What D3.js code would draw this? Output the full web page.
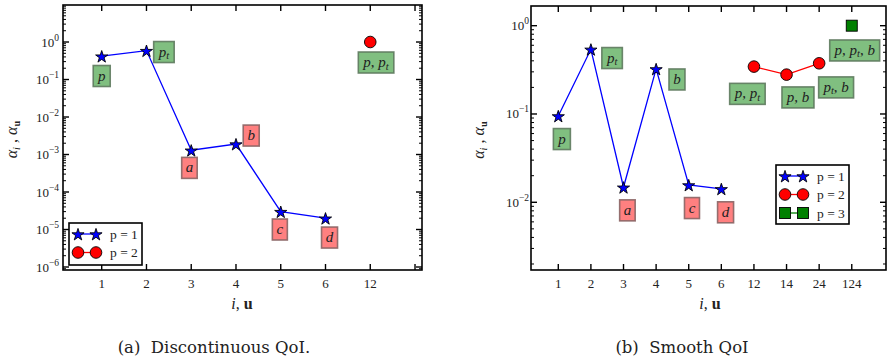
<!DOCTYPE html>
<html><head><meta charset="utf-8">
<script src="https://cdn.jsdelivr.net/npm/d3@7"></script>
<style>body{margin:0;background:#fff}svg{display:block}</style>
</head><body>
<svg id="c" width="894" height="361"></svg>
<script>
// ---------- DATA ----------
const catsA = ["1","2","3","4","5","6","12",""];
const aP1 = [0.42, 0.59, 1.3e-3, 1.9e-3, 3.0e-5, 2.0e-5];   // positions 1..6
const aP2 = [1.0];                                           // position 7
const aLabels = [
  {t:"p",   x:1.0,  y:0.124,  c:"g"},
  {t:"pt",  x:2.39, y:0.54,   c:"g"},
  {t:"a",   x:2.96, y:4.4e-4, c:"r"},
  {t:"b",   x:4.34, y:3.2e-3, c:"r"},
  {t:"c",   x:4.98, y:1.0e-5, c:"r"},
  {t:"d",   x:6.09, y:6.1e-6, c:"r"},
  {t:"p,pt",x:7.13, y:0.284,  c:"g"}
];
const catsB = ["1","2","3","4","5","6","12","14","24","124"];
const bP1 = [0.095, 0.54, 0.0148, 0.324, 0.0157, 0.0142];  // positions 1..6
const bP2 = [0.344, 0.279, 0.375];                        // positions 7..9
const bP3 = [1.0];                                        // position 10
const bLabels = [
  {t:"p",     x:1.11, y:0.052,  c:"g"},
  {t:"pt",    x:2.65, y:0.43,   c:"g"},
  {t:"a",     x:3.12, y:0.0081, c:"r"},
  {t:"b",     x:4.64, y:0.246,  c:"g"},
  {t:"c",     x:5.10, y:0.0086, c:"r"},
  {t:"d",     x:6.13, y:0.0077, c:"r"},
  {t:"p,pt",  x:6.80, y:0.169,  c:"g"},
  {t:"p,b",   x:8.35, y:0.154,  c:"g"},
  {t:"pt,b",  x:9.52, y:0.20,   c:"g"},
  {t:"p,pt,b",x:10.09,y:0.524,  c:"g"}
];
const yExpA = [0,-1,-2,-3,-4,-5,-6];
const yExpB = [0,-1,-2];

// ---------- DRAW ----------
const svg = d3.select("#c");
const SERIF = "'Liberation Serif', 'Times New Roman', serif";

function panel(o){
  const g = svg.append("g");
  const x = d3.scaleLinear().domain(o.xdom).range([o.L, o.R]);
  const y = d3.scaleLog().domain(o.ydom).range([o.B, o.T]);
  const nT = o.cats.length;
  const pos = d3.range(1, nT+1);

  // minor y ticks
  const lo = Math.floor(Math.log10(o.ydom[0])), hi = Math.ceil(Math.log10(o.ydom[1]));
  const minors = [];
  for (let e = lo; e <= hi; e++) for (let m = 2; m <= 9; m++) {
    const v = m*Math.pow(10,e); if (v>=o.ydom[0] && v<=o.ydom[1]) minors.push(v);
  }
  const tk = g.append("g").attr("stroke","#000").attr("fill","none");
  minors.forEach(v=>{
    tk.append("line").attr("x1",o.L).attr("x2",o.L+3).attr("y1",y(v)).attr("y2",y(v)).attr("stroke-width",1);
    tk.append("line").attr("x1",o.R).attr("x2",o.R-3).attr("y1",y(v)).attr("y2",y(v)).attr("stroke-width",1);
  });
  o.yExp.forEach(e=>{
    const v = Math.pow(10,e);
    tk.append("line").attr("x1",o.L).attr("x2",o.L+6).attr("y1",y(v)).attr("y2",y(v)).attr("stroke-width",1.4);
    tk.append("line").attr("x1",o.R).attr("x2",o.R-6).attr("y1",y(v)).attr("y2",y(v)).attr("stroke-width",1.4);
  });
  pos.forEach(p=>{
    tk.append("line").attr("x1",x(p)).attr("x2",x(p)).attr("y1",o.B).attr("y2",o.B-6).attr("stroke-width",1.4);
    tk.append("line").attr("x1",x(p)).attr("x2",x(p)).attr("y1",o.T).attr("y2",o.T+6).attr("stroke-width",1.4);
  });
  g.append("rect").attr("x",o.L).attr("y",o.T).attr("width",o.R-o.L).attr("height",o.B-o.T)
    .attr("fill","none").attr("stroke","#000").attr("stroke-width",1.6);

  // y tick labels
  o.yExp.forEach(e=>{
    const t = g.append("text").attr("x",o.L-o.lgap).attr("y",y(Math.pow(10,e))+4.5)
      .attr("text-anchor","end").attr("font-family",SERIF).attr("font-size",13).attr("fill","#222");
    t.append("tspan").text("10");
    t.append("tspan").attr("dy",-6).attr("font-size",9.5).text(e===0?"0":"\u2212"+(-e));
  });
  // x tick labels
  pos.forEach((p,i)=>{
    if (!o.cats[i]) return;
    g.append("text").attr("x",x(p)).attr("y",o.B+18).attr("text-anchor","middle")
      .attr("font-family",SERIF).attr("font-size",13).attr("fill","#222").text(o.cats[i]);
  });
  // axis labels
  const xl = g.append("text").attr("x",o.xlx).attr("y",309).attr("text-anchor","middle")
    .attr("font-family",SERIF).attr("font-size",16).attr("fill","#222");
  xl.append("tspan").attr("font-style","italic").text("i");
  xl.append("tspan").text(", ");
  xl.append("tspan").attr("font-weight","bold").text("u");
  const cy = (o.T+o.B)/2 + 2;
  const yl = g.append("text").attr("transform",`translate(${o.ylx},${cy}) rotate(-90)`)
    .attr("text-anchor","middle").attr("font-family",SERIF).attr("font-size",16).attr("fill","#222");
  yl.append("tspan").attr("font-style","italic").text("\u03b1");
  yl.append("tspan").attr("font-style","italic").attr("font-size",10.5).attr("dy",3).text("i");
  yl.append("tspan").attr("dy",-3).text(" , ");
  yl.append("tspan").attr("font-style","italic").text("\u03b1");
  yl.append("tspan").attr("font-weight","bold").attr("font-size",10.5).attr("dy",3).text("u");

  // caption
  g.append("text").attr("x",o.capx).attr("y",353).attr("text-anchor","middle")
    .attr("font-family","'DejaVu Serif', serif").attr("font-size",16.5).attr("fill","#222")
    .attr("xml:space","preserve").text(o.caption);

  const clip = g.append("g");
  // series
  const line = d3.line().x(d=>x(d[0])).y(d=>y(d[1]));
  o.series.forEach(s=>{
    const pts = s.vals.map((v,i)=>[s.start+i, v]);
    if (pts.length>1) clip.append("path").attr("d",line(pts)).attr("fill","none")
      .attr("stroke",s.lc).attr("stroke-width",1.3);
    pts.forEach(pt=>drawMarker(clip, s.m, x(pt[0]), y(pt[1])));
  });

  // annotation labels
  aLab(g, o.labels, x, y);

  // legend
  const lg = g.append("g");
  lg.append("rect").attr("x",o.leg.x).attr("y",o.leg.y).attr("width",o.leg.w).attr("height",o.leg.h)
    .attr("fill","#fff").attr("stroke","#000").attr("stroke-width",1.6);
  o.series.forEach((s,i)=>{
    const yy = o.leg.y + 11 + i*18.5;
    const x1 = o.leg.x + 9, x2 = o.leg.x + 27;
    lg.append("line").attr("x1",x1).attr("x2",x2).attr("y1",yy).attr("y2",yy).attr("stroke",s.lc).attr("stroke-width",1.3);
    drawMarker(lg, s.m, x1, yy); drawMarker(lg, s.m, x2, yy);
    lg.append("text").attr("x",o.leg.x+41).attr("y",yy+4.5).attr("font-family",SERIF).attr("font-size",13.5)
      .attr("fill","#222").text(s.name);
  });
}

function drawMarker(g, m, cx, cy){
  if (m==="star") g.append("path").attr("d",d3.symbol(d3.symbolStar, 46)()).attr("transform",`translate(${cx},${cy+0.8})`)
    .attr("fill","#0000ff").attr("stroke","#000").attr("stroke-width",0.9);
  else if (m==="circle") g.append("circle").attr("cx",cx).attr("cy",cy).attr("r",5.8)
    .attr("fill","#ff0000").attr("stroke","#000").attr("stroke-width",0.9);
  else g.append("rect").attr("x",cx-5.5).attr("y",cy-5.5).attr("width",11).attr("height",11)
    .attr("fill","#008000").attr("stroke","#000").attr("stroke-width",0.9);
}

function aLab(g, labels, x, y){
  labels.forEach(l=>{
    const cx = x(l.x), cy = y(l.y);
    const t = g.append("text").attr("x",cx).attr("y",cy+4.5).attr("text-anchor","middle")
      .attr("font-family",SERIF).attr("font-size",15).attr("font-style","italic").attr("fill","#222");
    const parts = l.t.split(",");
    let pend = 0;
    parts.forEach((p,i)=>{
      if (i>0){ const s = t.append("tspan").attr("font-style","normal").text(", "); if (pend){ s.attr("dy",pend); pend=0; } }
      if (p==="pt"){
        t.append("tspan").text("p");
        t.append("tspan").attr("font-size",10.5).attr("dy",2.5).text("t");
        pend = -2.5;
      } else t.append("tspan").text(p);
    });
    const bb = t.node().getBBox();
    const w = bb.width + 8, h = 21;
    g.insert("rect", function(){ return t.node(); })
      .attr("x",cx-w/2).attr("y",cy-h/2).attr("width",w).attr("height",h)
      .attr("fill", l.c==="g" ? "#80bf80" : "#ff8080")
      .attr("stroke", l.c==="g" ? "#5e7a5e" : "#8a6464").attr("stroke-width",1.6).attr("stroke-opacity",0.9);
  });
}

panel({
  L:63, R:422, T:5, B:270,
  xdom:[0.135, 8.156], ydom:[Math.pow(10,-6.08), Math.pow(10,0.987)],
  cats:catsA, yExp:yExpA, lgap:4, xlx:242, ylx:17, capx:214,
  caption:"(a)  Discontinuous QoI.",
  series:[{name:"p = 1", vals:aP1, start:1, m:"star", lc:"#0000ff"},
          {name:"p = 2", vals:aP2, start:7, m:"circle", lc:"#ff0000"}],
  labels:aLabels,
  leg:{x:69, y:223, w:73, h:42}
});
panel({
  L:531, R:886, T:6, B:270,
  xdom:[0.163, 11.05], ydom:[Math.pow(10,-2.767), Math.pow(10,0.223)],
  cats:catsB, yExp:yExpB, lgap:2, xlx:710, ylx:484, capx:682,
  caption:"(b)  Smooth QoI",
  series:[{name:"p = 1", vals:bP1, start:1, m:"star", lc:"#0000ff"},
          {name:"p = 2", vals:bP2, start:7, m:"circle", lc:"#ff0000"},
          {name:"p = 3", vals:bP3, start:10, m:"square", lc:"#008000"}],
  labels:bLabels,
  leg:{x:776, y:165, w:73, h:59}
});
</script>
</body></html>
